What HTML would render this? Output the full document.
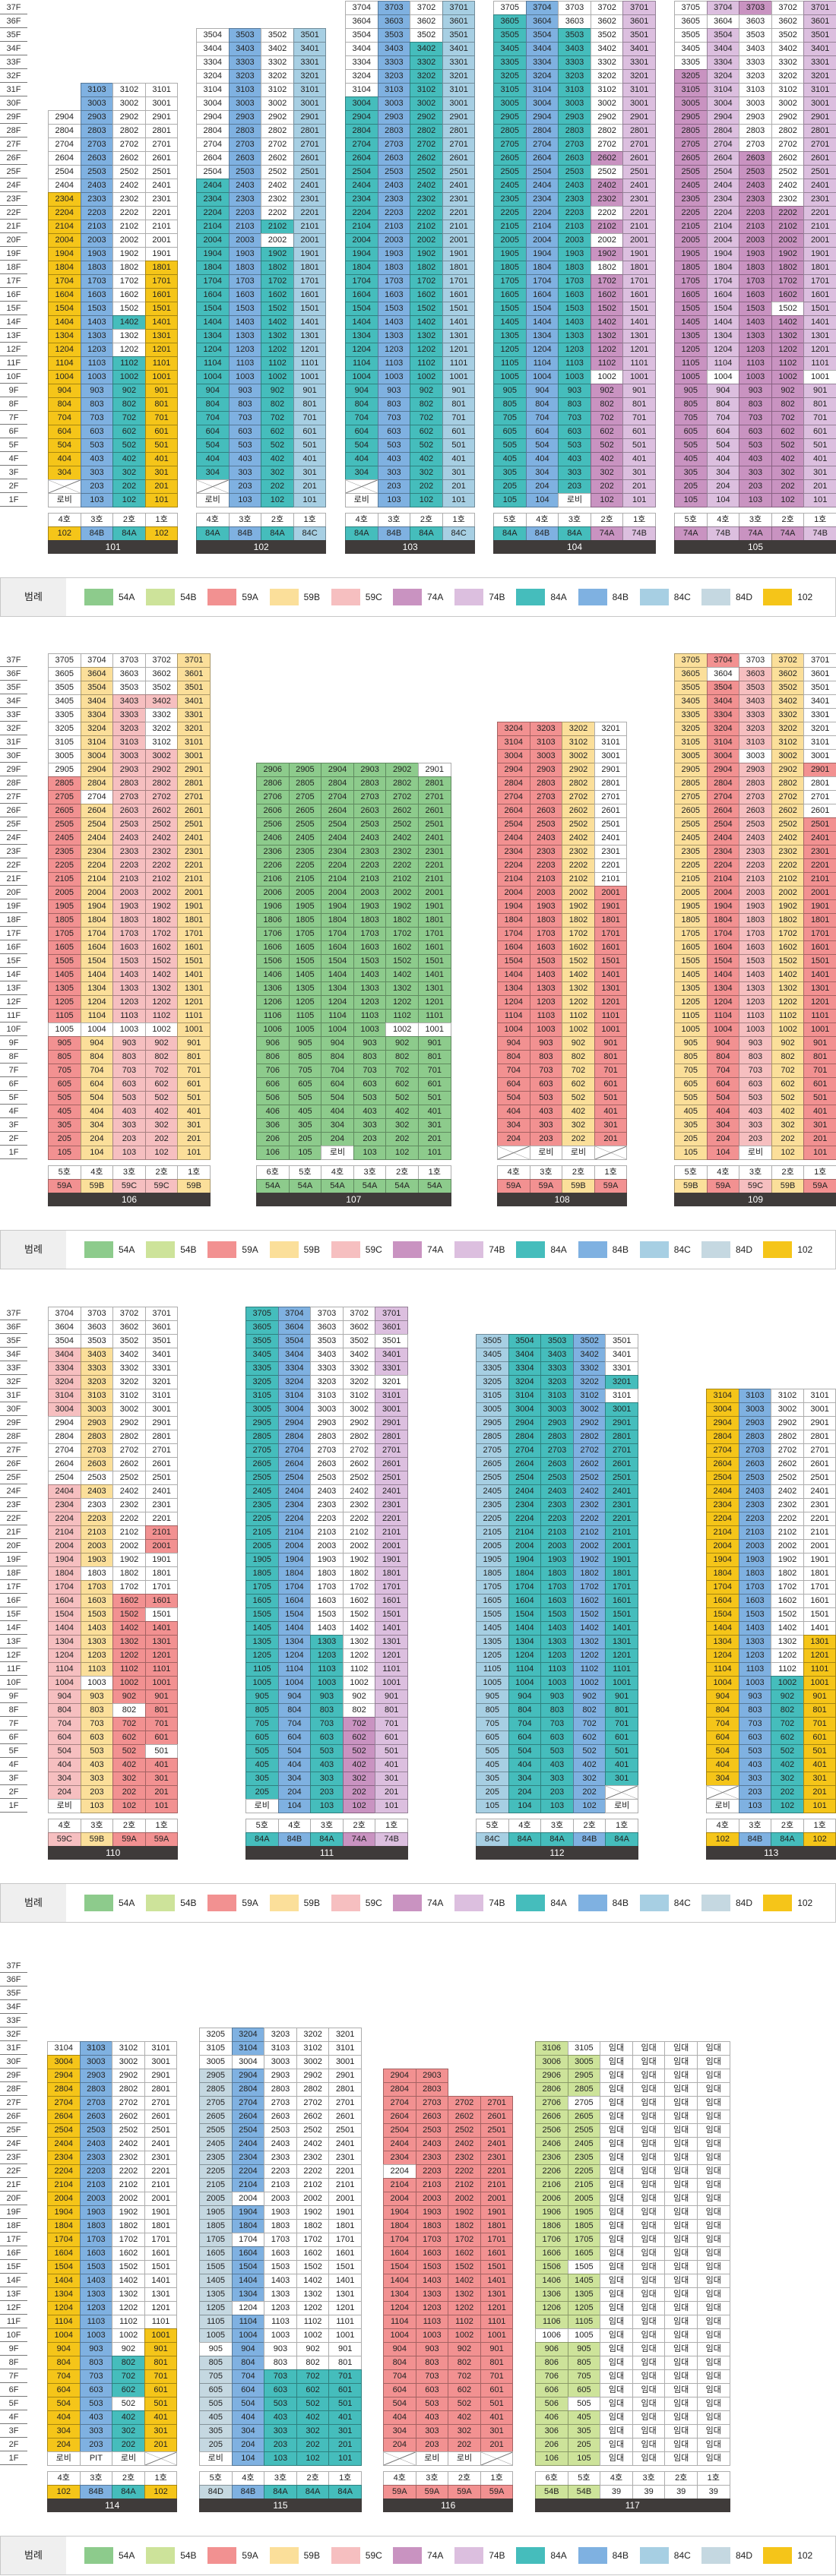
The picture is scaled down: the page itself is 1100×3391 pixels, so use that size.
<!DOCTYPE html>
<html lang="ko"><head><meta charset="utf-8">
<style>
html,body{margin:0;padding:0;background:#fff;}
body{width:1100px;height:3391px;position:relative;overflow:hidden;font-family:"Liberation Sans","Noto Sans CJK KR","NanumGothic",sans-serif;color:#222;}
.c{position:absolute;box-sizing:border-box;border:1px solid rgba(0,0,0,0.32);font-size:11px;line-height:17px;text-align:center;white-space:nowrap;overflow:hidden;}
.fl{position:absolute;left:0;width:36px;height:18px;font-size:11px;line-height:18px;text-align:center;border-bottom:1px solid #777;box-sizing:border-box;color:#333;}
.bar{position:absolute;height:18px;background:#3f3b3a;color:#fff;font-size:12px;line-height:18px;text-align:center;}
.leg{position:absolute;left:0;width:1100px;height:52px;box-sizing:border-box;border:1px solid #c8c8c8;}
.leglab{position:absolute;left:0;top:0;width:86px;height:50px;background:#efefef;font-size:13px;line-height:50px;text-align:center;}
.sw{position:absolute;top:14px;width:38px;height:22px;}
.swt{position:absolute;top:14px;font-size:12px;line-height:22px;color:#222;}
</style></head><body>
<div id="root"></div>
<script>
// ---- data ----
const typeNames = ["54A","54B","59A","59B","59C","74A","74B","84A","84B","84C","84D","102"];
const typeColors = ["#8dcb8c","#cde39a","#f29191","#fbdf9a","#f6bfc0","#c993c1","#dcbfdf","#45bdbc","#7fb1e1","#a7cfe3","#c5d8e1","#f5c519"];
const sectionPitch = 859.3;
// column spec: [unitNo, type, topFloor, whiteFloors, f1, f2]
const buildings = [
 {name:"101",sec:0,x:63,cols:[[4,"102",29,"24-29","lobby","X"],[3,"84B",31,"",null,null],[2,"84A",31,"12-13,15-31",null,null],[1,"102",31,"19-31",null,null]]},
 {name:"102",sec:0,x:258,cols:[[4,"84A",35,"25-35","lobby","X"],[3,"84B",35,"",null,null],[2,"84A",35,"20,22-35",null,null],[1,"84C",35,"",null,null]]},
 {name:"103",sec:0,x:454,cols:[[4,"84A",37,"31-37","lobby","X"],[3,"84B",37,"",null,null],[2,"84A",37,"35-37",null,null],[1,"84C",37,"",null,null]]},
 {name:"104",sec:0,x:649,cols:[[5,"84A",37,"37",null,null],[4,"84B",37,"",null,null],[3,"84A",37,"36-37","lobby",null],[2,"74A",37,"10,18,20,22,25,27-37",null,null],[1,"74B",37,"",null,null]]},
 {name:"105",sec:0,x:887,cols:[[5,"74A",37,"33-37",null,null],[4,"74B",37,"10,36",null,null],[3,"74A",37,"27-36",null,null],[2,"74A",37,"15,23-37",null,null],[1,"74B",37,"10",null,null]]},
 {name:"106",sec:1,x:63,cols:[[5,"59A",37,"10,29-37",null,null],[4,"59B",37,"10,27,37",null,null],[3,"59C",37,"10,35-37",null,null],[2,"59C",37,"10,31-33,35-37",null,null],[1,"59B",37,"",null,null]]},
 {name:"107",sec:1,x:337,cols:[[6,"54A",29,"",null,null],[5,"54A",29,"",null,null],[4,"54A",29,"","lobby",null],[3,"54A",29,"",null,null],[2,"54A",29,"10",null,null],[1,"54A",29,"10,29",null,null]]},
 {name:"108",sec:1,x:654,cols:[[4,"59A",32,"","X",null],[3,"59A",32,"","lobby",null],[2,"59B",32,"","lobby",null],[1,"59A",32,"21-32","X",null]]},
 {name:"109",sec:1,x:887,cols:[[5,"59B",37,"",null,null],[4,"59A",37,"36",null,null],[3,"59C",37,"30,37","lobby",null],[2,"59B",37,"",null,null],[1,"59A",37,"26-28,30-37",null,null]]},
 {name:"110",sec:2,x:63,cols:[[4,"59C",37,"25-29,35-37","lobby",null],[3,"59B",37,"10,18,23,25,35-37",null,null],[2,"59A",37,"8,17-37",null,null],[1,"59A",37,"5,15,17-19,22-37",null,null]]},
 {name:"111",sec:2,x:323,cols:[[5,"84A",37,"","lobby",null],[4,"84B",37,"",null,null],[3,"84A",37,"14-37",null,null],[2,"74A",37,"8-37",null,null],[1,"74B",37,"32,35",null,null]]},
 {name:"112",sec:2,x:626,cols:[[5,"84C",35,"",null,null],[4,"84A",35,"",null,null],[3,"84A",35,"",null,null],[2,"84B",35,"",null,null],[1,"84A",35,"31,33-35","lobby","X"]]},
 {name:"113",sec:2,x:929,cols:[[4,"102",31,"","lobby","X"],[3,"84B",31,"",null,null],[2,"84A",31,"11-31",null,null],[1,"102",31,"14-31",null,null]]},
 {name:"114",sec:3,x:62,cols:[[4,"102",31,"31","lobby",null],[3,"84B",31,"","PIT",null],[2,"84A",31,"5,9-31","lobby",null],[1,"102",31,"11-31","X",null]]},
 {name:"115",sec:3,x:262,cols:[[5,"84D",32,"9,30-32","lobby",null],[4,"84B",32,"12,17,20,30",null,null],[3,"84A",32,"8-32",null,null],[2,"84A",32,"8-32",null,null],[1,"84A",32,"8-32",null,null]]},
 {name:"116",sec:3,x:504,cols:[[4,"59A",29,"22","X",null],[3,"59A",29,"","lobby",null],[2,"59A",27,"","lobby",null],[1,"59A",27,"","X",null]]},
 {name:"117",sec:3,x:704,cols:[[6,"54B",31,"10",null,null],[5,"54B",31,"5,10,15,27,31",null,null],[4,"39",31,"RENT",null,null],[3,"39",31,"RENT",null,null],[2,"39",31,"RENT",null,null],[1,"39",31,"RENT",null,null]]}
];
// ---- render ----
const root=document.getElementById('root');
const CW=42.6, RH=18, TOP=1;
function parseSet(s){const set=new Set();if(!s||s==="RENT")return set;s.split(',').forEach(p=>{const r=p.split('-').map(Number);if(r.length===1)set.add(r[0]);else for(let i=r[0];i<=r[1];i++)set.add(i);});return set;}
function colorOf(t){const i=typeNames.indexOf(t);return i<0?"#fff":typeColors[i];}
function cell(x,y,w,h,bg,txt,name){const d=document.createElement('div');d.className='c';d.style.left=x+'px';d.style.top=y+'px';d.style.width=(w+1)+'px';d.style.height=(h+1)+'px';d.style.background=bg;d.textContent=txt;


root.appendChild(d);return d;}
for(let s=0;s<4;s++){
  const oy=Math.round(s*sectionPitch);
  for(let f=37;f>=1;f--){const d=document.createElement('div');d.className='fl';d.style.top=(oy+TOP+(37-f)*RH)+'px';d.textContent=f+'F';
    
    
    root.appendChild(d);}
  // legend
  const lg=document.createElement('div');lg.className='leg';lg.style.top=(oy+760)+'px';
  
  
  const ll=document.createElement('div');ll.className='leglab';ll.textContent='범례';
  
  
  lg.appendChild(ll);
  typeNames.forEach((t,i)=>{const sw=document.createElement('div');sw.className='sw';sw.style.left=(110+81.2*i)+'px';sw.style.background=typeColors[i];
    
    
    lg.appendChild(sw);
    const tx=document.createElement('div');tx.className='swt';tx.style.left=(155+81.2*i)+'px';tx.textContent=t;
    
    
    lg.appendChild(tx);});
  root.appendChild(lg);
}
buildings.forEach(b=>{
  const oy=Math.round(b.sec*sectionPitch);
  b.cols.forEach((c,ci)=>{
    const [u,type,top,wh,f1,f2]=c;const ws=parseSet(wh);const rent=wh==="RENT";
    const x=b.x+ci*CW;
    for(let f=top;f>=1;f--){
      const y=oy+TOP+(37-f)*RH;
      let bg=ws.has(f)||rent?"#fff":colorOf(type);
      let txt=rent?"임대":(f*100+u)+"";
      if(f===1&&f1){bg="#fff";txt=f1==="lobby"?"로비":(f1==="PIT"?"PIT":"");}
      if(f===2&&f2==="X"){bg="#fff";txt="";}
      const d=cell(x,y,CW,RH,bg,txt,'unit-cell');
      if((f===1&&f1==="X")||(f===2&&f2==="X")){d.innerHTML='<svg width="100%" height="100%" viewBox="0 0 10 10" preserveAspectRatio="none" style="display:block"><line x1="0" y1="0" x2="10" y2="10" stroke="#777" stroke-width="0.4" vector-effect="non-scaling-stroke"/><line x1="10" y1="0" x2="0" y2="10" stroke="#777" vector-effect="non-scaling-stroke"/></svg>';}
    }
    const by=oy+TOP+37*RH+8;
    cell(x,by,CW,RH,"#fff",u+"호",'unit-number-header');
    cell(x,by+RH,CW,RH,colorOf(type),type,'unit-type-label');
  });
  const w=b.cols.length*CW;
  const bar=document.createElement('div');bar.className='bar';bar.style.left=b.x+'px';bar.style.width=(w+1)+'px';
  bar.style.top=(oy+TOP+37*RH+8+2*RH)+'px';bar.textContent=b.name;
  
  
  root.appendChild(bar);
});
</script>
</body></html>
